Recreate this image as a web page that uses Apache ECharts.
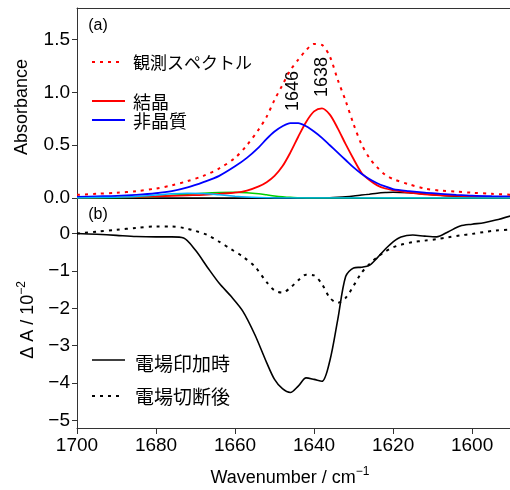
<!DOCTYPE html>
<html><head><meta charset="utf-8">
<script src="https://cdn.jsdelivr.net/npm/echarts@6/dist/echarts.min.js"></script>
<style>html,body{margin:0;padding:0;background:#fff}#c{width:510px;height:490px}</style>
</head><body><div id="c"></div>
<script>
// ---- data (top panel) ----
const wnTop = [1700,1695,1690,1685,1680,1676,1672,1668,1664,1660,1657,1654,1652,1650,1648,1646,1644,1642,1640,1638,1636,1634,1632,1630,1628,1626,1624,1622,1620,1616,1612,1608,1604,1600,1595,1590];
const absObserved = [0.03,0.04,0.05,0.065,0.09,0.12,0.16,0.21,0.28,0.38,0.50,0.65,0.77,0.93,1.07,1.21,1.31,1.40,1.46,1.45,1.34,1.12,0.92,0.70,0.51,0.38,0.29,0.22,0.18,0.13,0.09,0.07,0.06,0.05,0.04,0.03];
const absCrystal = [0.005,0.007,0.01,0.012,0.015,0.02,0.025,0.03,0.04,0.05,0.07,0.11,0.15,0.21,0.30,0.43,0.58,0.72,0.82,0.85,0.79,0.66,0.51,0.37,0.24,0.17,0.12,0.09,0.075,0.05,0.035,0.025,0.02,0.015,0.01,0.008];
const absAmorphous = [0.01,0.015,0.02,0.03,0.045,0.065,0.10,0.15,0.21,0.30,0.38,0.48,0.56,0.63,0.68,0.71,0.71,0.68,0.63,0.57,0.50,0.43,0.36,0.29,0.23,0.18,0.14,0.11,0.085,0.065,0.05,0.04,0.03,0.022,0.017,0.015];
const absGreen = [0,0.001,0.003,0.008,0.015,0.025,0.035,0.045,0.052,0.055,0.05,0.04,0.03,0.02,0.012,0.006,0.003,0.001,0,0,0,0,0,0,0,0,0,0,0,0,0,0,0,0,0,0];
const absCyan = [0,0.004,0.008,0.015,0.028,0.04,0.046,0.042,0.03,0.017,0.009,0.004,0.002,0.001,0,0,0,0,0,0,0,0,0,0,0,0,0,0,0,0,0,0,0,0,0,0];
const absBlack = [0,0,0,0,0,0,0,0,0,0,0,0,0,0,0,0,0,0,0,0.001,0.003,0.007,0.012,0.019,0.028,0.036,0.045,0.051,0.055,0.05,0.038,0.025,0.014,0.007,0.003,0.001];
// ---- data (bottom panel, ΔA / 10^-2) ----
const wnBot = [1700,1695,1690,1685,1680,1676,1673,1670,1667,1664,1661,1658,1655,1652,1650,1648,1646,1644,1642,1640,1638,1636,1634,1632,1630,1628,1626,1624,1622,1620,1618,1615,1612,1609,1606,1603,1600,1597,1594,1590];
const dAOn = [0.0,-0.02,-0.05,-0.08,-0.09,-0.09,-0.12,-0.45,-0.9,-1.33,-1.68,-2.08,-2.7,-3.45,-3.9,-4.15,-4.25,-4.08,-3.86,-3.9,-3.95,-3.4,-2.3,-1.15,-0.92,-0.9,-0.85,-0.65,-0.42,-0.22,-0.09,-0.04,-0.07,-0.09,0.05,0.2,0.25,0.29,0.36,0.48];
const dAOff = [0.0,0.05,0.1,0.15,0.19,0.19,0.15,0.07,-0.04,-0.22,-0.42,-0.62,-0.88,-1.3,-1.52,-1.58,-1.45,-1.25,-1.1,-1.12,-1.35,-1.72,-1.85,-1.72,-1.4,-1.05,-0.82,-0.63,-0.48,-0.37,-0.3,-0.23,-0.19,-0.15,-0.1,-0.05,-0.01,0.04,0.08,0.11];
// ---- ticks ----
const xTicks = [1700,1680,1660,1640,1620,1600];
const yTicksTop = [0,0.5,1.0,1.5];
const yTicksBot = [-5,-4,-3,-2,-1,0];

const pairs = (xs, ys) => xs.map((x,i)=>[x, ys[i]]);
const LAT = "'Liberation Sans', Arial, sans-serif";
const JP = "'Noto Sans CJK JP', sans-serif";
const AX = '#333';

const chart = echarts.init(document.getElementById('c'), null, {renderer:'canvas'});
const lineS = (name, xi, yi, data, color, width, type, z) => ({
  name, type:'line', xAxisIndex:xi, yAxisIndex:yi, data, showSymbol:false, symbol:'none',
  smooth:0.3, lineStyle:{color, width, type: type||'solid'}, z: z||2, animation:false
});

chart.setOption({
  animation:false,
  grid:[
    {left:77, top:8, right:0, height:190},
    {left:77, top:198, right:0, height:230}
  ],
  xAxis:[
    {gridIndex:0, type:'value', min:1590.4, max:1700, inverse:true, position:'bottom',
      axisLine:{show:true, onZero:false, lineStyle:{color:'#000', width:1}}, axisTick:{show:false}, axisLabel:{show:false}, splitLine:{show:false}},
    {gridIndex:0, type:'value', min:1590.4, max:1700, inverse:true, position:'top',
      axisLine:{show:true, onZero:false, lineStyle:{color:AX, width:1}}, axisTick:{show:false}, axisLabel:{show:false}, splitLine:{show:false}},
    {gridIndex:1, type:'value', min:1590.4, max:1700, inverse:true, position:'bottom',
      axisLine:{show:true, onZero:false, lineStyle:{color:AX, width:1}},
      axisTick:{show:true, length:6, inside:false, customValues:xTicks, lineStyle:{color:AX}},
      axisLabel:{show:true, customValues:xTicks, color:'#000', fontSize:19, fontFamily:LAT, margin:8,
        formatter:v=>String(Math.round(v))},
      splitLine:{show:false}}
  ],
  yAxis:[
    {gridIndex:0, type:'value', min:0, max:1.8,
      axisLine:{show:true, onZero:false, lineStyle:{color:AX, width:1}},
      axisTick:{show:true, length:5, customValues:yTicksTop, lineStyle:{color:AX}},
      axisLabel:{show:true, customValues:yTicksTop, color:'#000', fontSize:19, fontFamily:LAT, margin:7,
        formatter:v=>Number(v).toFixed(1)},
      splitLine:{show:false}},
    {gridIndex:1, type:'value', min:-5.2, max:0.95,
      axisLine:{show:true, onZero:false, lineStyle:{color:AX, width:1}},
      axisTick:{show:true, length:5, customValues:yTicksBot, lineStyle:{color:AX}},
      axisLabel:{show:true, customValues:yTicksBot, color:'#000', fontSize:19, fontFamily:LAT, margin:7,
        formatter:v=>String(Math.round(v)).replace('-','\u2212')},
      splitLine:{show:false}}
  ],
  series:[
    lineS('black', 0,0, pairs(wnTop, absBlack), '#000', 1.5),
    lineS('green', 0,0, pairs(wnTop, absGreen), '#00d000', 1.5),
    lineS('cyan', 0,0, pairs(wnTop, absCyan), '#00b4ff', 1.5, 'solid', 5),
    lineS('結晶', 0,0, pairs(wnTop, absCrystal), '#ff0000', 1.8, 'solid', 3),
    lineS('非晶質', 0,0, pairs(wnTop, absAmorphous), '#0000ff', 1.8, 'solid', 3),
    lineS('観測スペクトル', 0,0, pairs(wnTop, absObserved), '#ff0000', 2, [3,5], 4),
    lineS('電場印加時', 2,1, pairs(wnBot, dAOn), '#000', 1.6),
    lineS('電場切断後', 2,1, pairs(wnBot, dAOff), '#000', 2, [3,5])
  ],
  graphic:[
    {type:'text', x:22, y:107, rotation:Math.PI/2, style:{text:'Absorbance', fontSize:18, fontFamily:LAT, fill:'#000', align:'center', verticalAlign:'middle'}},
    {type:'text', x:28, y:320, rotation:Math.PI/2, style:{text:'Δ A / 10{sup|−2}', fontSize:18, fontFamily:LAT, fill:'#000', align:'center', verticalAlign:'middle',
      rich:{sup:{fontSize:12, fontFamily:LAT, fill:'#000', padding:[0,0,12,0]}}}},
    {type:'text', x:290, y:478, style:{text:'Wavenumber / cm{sup|−1}', fontSize:18, fontFamily:LAT, fill:'#000', align:'center', verticalAlign:'middle',
      rich:{sup:{fontSize:12, fontFamily:LAT, fill:'#000', padding:[0,0,12,0]}}}},
    {type:'text', x:98, y:26, style:{text:'(a)', fontSize:16, fontFamily:LAT, fill:'#000', align:'center', verticalAlign:'middle'}},
    {type:'text', x:98, y:215, style:{text:'(b)', fontSize:16, fontFamily:LAT, fill:'#000', align:'center', verticalAlign:'middle'}},
    {type:'text', x:293, y:91, rotation:Math.PI/2, style:{text:'1646', fontSize:18, fontFamily:LAT, fill:'#000', align:'center', verticalAlign:'middle'}},
    {type:'text', x:322, y:77, rotation:Math.PI/2, style:{text:'1638', fontSize:18, fontFamily:LAT, fill:'#000', align:'center', verticalAlign:'middle'}},
    // legend (a)
    {type:'line', shape:{x1:92,y1:62,x2:124,y2:62}, style:{stroke:'#ff0000', lineWidth:2, lineDash:[3,5]}},
    {type:'text', x:133, y:63, style:{text:'観測スペクトル', fontSize:17, fontFamily:JP, fill:'#000', verticalAlign:'middle'}},
    {type:'line', shape:{x1:92,y1:101,x2:125,y2:101}, style:{stroke:'#ff0000', lineWidth:1.8}},
    {type:'text', x:133, y:102, style:{text:'結晶', fontSize:18, fontFamily:JP, fill:'#000', verticalAlign:'middle'}},
    {type:'line', shape:{x1:92,y1:120,x2:125,y2:120}, style:{stroke:'#0000ff', lineWidth:1.8}},
    {type:'text', x:133, y:121, style:{text:'非晶質', fontSize:18, fontFamily:JP, fill:'#000', verticalAlign:'middle'}},
    // legend (b)
    {type:'line', shape:{x1:92,y1:360,x2:125,y2:360}, style:{stroke:'#000', lineWidth:1.6}},
    {type:'text', x:135, y:364, style:{text:'電場印加時', fontSize:19, fontFamily:JP, fill:'#000', verticalAlign:'middle'}},
    {type:'line', shape:{x1:92,y1:396,x2:124,y2:396}, style:{stroke:'#000', lineWidth:2, lineDash:[3,5]}},
    {type:'text', x:135, y:397, style:{text:'電場切断後', fontSize:19, fontFamily:JP, fill:'#000', verticalAlign:'middle'}}
  ]
});
</script></body></html>
